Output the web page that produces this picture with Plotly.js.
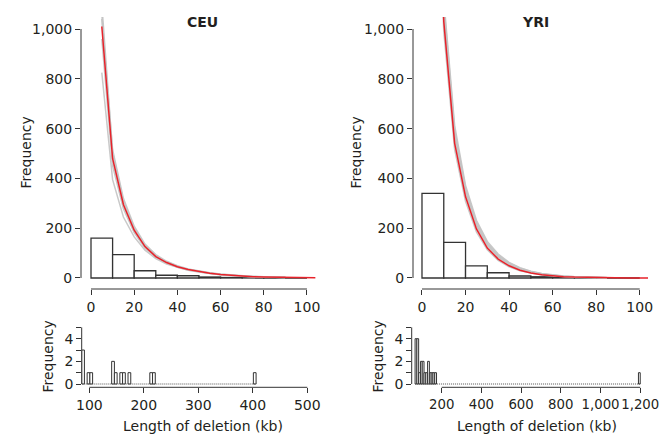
<!DOCTYPE html>
<html>
<head>
<meta charset="utf-8">
<script src="https://cdn.plot.ly/plotly-3.0.1.min.js"></script>
<style>html,body{margin:0;padding:0;background:#fff;}#chart{width:660px;height:434px;}</style>
</head>
<body>
<div id="chart"></div>
<script>
// ---------- data ----------
const xTicksTop = [0, 20, 40, 60, 80, 100];
const yTicksTop = [0, 200, 400, 600, 800, 1000];
const yTickTextTop = ['0', '200', '400', '600', '800', '1,000'];

const histBinLeftTop = [0, 10, 20, 30, 40, 50, 60, 70, 80, 90];
const histBinWidthTop = 10;
const ceuCounts = [160, 94, 29, 11, 9, 4, 2, 1, 1, 0];
const yriCounts = [340, 143, 49, 21, 8, 5, 2, 1, 0, 0];

const redX = [5, 10, 15, 20, 25, 30, 35, 40, 45, 50, 55, 60, 65, 70, 75, 80, 85, 90, 95, 100, 104];
const ceuRedY = [1010, 480, 295, 192, 126, 86, 62, 45, 34, 25, 19, 14, 10, 7, 5, 4, 3, 2, 1.5, 1, 0.8];
const yriRedY = [2200, 1030, 541, 326, 197, 120, 76, 49, 31, 20, 13, 8.5, 5.5, 3.5, 2.3, 1.5, 1, 0.6, 0.4, 0.3, 0.2];

const ceuGrayX = [5, 10, 15, 20, 25, 30, 35, 40, 45, 50, 55, 60, 65, 70, 75, 80, 85, 90];
const ceuGray1 = [825, 395, 245, 165, 112, 78, 56, 42, 31, 24, 18, 13, 10, 7, 5, 4, 3, 2];
const ceuGray2 = [1100, 505, 310, 200, 131, 90, 65, 47, 35, 27, 20, 15, 11, 8, 6, 5, 3.5, 2.5];
const ceuGray3 = [1060, 470, 288, 186, 123, 85, 61, 44, 33, 25, 19, 14, 10, 7.5, 5.5, 4, 3, 2];
const ceuGray4 = [960, 450, 278, 182, 120, 84, 60, 43, 32, 24, 18, 13, 9.5, 7, 5, 3.5, 2.5, 2];
const ceuGray5 = [1040, 515, 320, 208, 136, 94, 67, 49, 36, 28, 21, 16, 12, 9, 6.5, 5, 4, 3];

const yriGrayX = [5, 10, 15, 20, 25, 30, 35, 40, 45, 50, 55, 60, 65, 70, 75, 80, 85];
const yriGray1 = [2300, 1080, 580, 350, 215, 135, 87, 57, 37, 24, 16, 11, 7, 4.5, 3, 2, 1.3];
const yriGray2 = [2100, 990, 515, 308, 185, 113, 71, 45, 29, 19, 12, 8, 5, 3, 2, 1.3, 0.8];
const yriGray3 = [2400, 1120, 612, 372, 232, 147, 96, 63, 41, 27, 18, 12, 8, 5, 3.5, 2.3, 1.5];
const yriGray4 = [2250, 1050, 560, 340, 207, 129, 83, 54, 35, 23, 15, 10, 6.5, 4, 2.7, 1.8, 1.1];
const yriGray5 = [2350, 1100, 595, 362, 224, 141, 91, 60, 39, 26, 17, 11.5, 7.5, 5, 3.2, 2.1, 1.4];

const yTicksTail = [0, 1, 2, 3, 4, 5];
const yTickTextTail = ['0', '', '2', '', '4', ''];
const ceuTailTicks = [100, 200, 300, 400, 500];
const ceuTailTickText = ['100', '200', '300', '400', '500'];
const yriTailTicks = [200, 400, 600, 800, 1000, 1200];
const yriTailTickText = ['200', '400', '600', '800', '1,000', '1,200'];

const ceuTailLeft = [86, 96, 101, 141, 146, 156, 161, 171, 211, 216, 401];
const ceuTailCounts = [3, 1, 1, 2, 1, 1, 1, 1, 1, 1, 1];
const ceuTailWidth = 5;
const yriTailLeft = [66, 75, 84, 93, 102, 111, 120, 129, 138, 147, 156, 165, 1191];
const yriTailCounts = [4, 4, 1, 2, 2, 1, 1, 2, 1, 1, 1, 1, 1];
const yriTailWidth = 9;

// ---------- layout helpers ----------
const W = 660, H = 434;
const FONT = 'DejaVu Sans, Liberation Sans, Arial, sans-serif';
const TXT = '#231f20';
const AX = '#333333';
const fx = p => p / W;
const fy = p => 1 - p / H;

function axisBase(extra) {
  return Object.assign({
    showgrid: false, zeroline: false, showline: false,
    ticks: 'outside', ticklen: 5, tickwidth: 1, tickcolor: AX,
    tickfont: {family: FONT, size: 14, color: TXT}, tickangle: 0,
    tickmode: 'array', fixedrange: true, ticklabeloverflow: 'allow'
  }, extra);
}

const traces = [];
function addHist(xa, ya, lefts, width, counts, lw) {
  traces.push({
    type: 'bar', x: lefts, y: counts, width: width, offset: 0,
    xaxis: xa, yaxis: ya,
    marker: {color: 'rgba(255,255,255,1)', line: {color: AX, width: lw}},
    hoverinfo: 'skip'
  });
}
function addLine(xa, ya, xs, ys, color, w) {
  traces.push({
    type: 'scatter', mode: 'lines', x: xs, y: ys, xaxis: xa, yaxis: ya,
    line: {color: color, width: w}, hoverinfo: 'skip', cliponaxis: true
  });
}

// top CEU
addHist('x', 'y', histBinLeftTop, histBinWidthTop, ceuCounts, 1.3);
[ceuGray1, ceuGray2, ceuGray3, ceuGray4, ceuGray5].forEach(g => addLine('x', 'y', ceuGrayX, g, 'rgba(195,195,195,0.9)', 1.5));
addLine('x', 'y', redX, ceuRedY, '#e8222a', 1.5);
// top YRI
addHist('x2', 'y2', histBinLeftTop, histBinWidthTop, yriCounts, 1.3);
[yriGray1, yriGray2, yriGray3, yriGray4, yriGray5].forEach(g => addLine('x2', 'y2', yriGrayX, g, 'rgba(195,195,195,0.9)', 1.5));
addLine('x2', 'y2', redX, yriRedY, '#e8222a', 1.5);
// tails: baseline of empty bins, then bars
traces.push({type: 'scatter', mode: 'lines', xaxis: 'x3', yaxis: 'y3',
  x: [ceuTailLeft[0], ceuTailLeft[ceuTailLeft.length - 1] + ceuTailWidth], y: [0, 0],
  line: {color: '#555', width: 1.2, dash: '1px,1px'}, hoverinfo: 'skip'});
addHist('x3', 'y3', ceuTailLeft, ceuTailWidth, ceuTailCounts, 1);
traces.push({type: 'scatter', mode: 'lines', xaxis: 'x4', yaxis: 'y4',
  x: [yriTailLeft[0], yriTailLeft[yriTailLeft.length - 1] + yriTailWidth], y: [0, 0],
  line: {color: '#555', width: 1.2, dash: '1px,1px'}, hoverinfo: 'skip'});
addHist('x4', 'y4', yriTailLeft, yriTailWidth, yriTailCounts, 1);

function axisLines(xa, ya, xt, yt) {
  return [
    {type: 'line', xref: xa, yref: ya + ' domain', x0: xt[0], x1: xt[xt.length - 1], y0: 0, y1: 0, line: {color: AX, width: 1}},
    {type: 'line', yref: ya, xref: xa + ' domain', y0: yt[0], y1: yt[yt.length - 1], x0: 0, x1: 0, line: {color: AX, width: 1}}
  ];
}

const layout = {
  width: W, height: H,
  margin: {l: 0, r: 0, t: 0, b: 0},
  paper_bgcolor: '#fff', plot_bgcolor: 'rgba(0,0,0,0)',
  showlegend: false, bargap: 0,
  xaxis: axisBase({domain: [fx(81), fx(315.6)], range: [-4.63, 104], tickvals: xTicksTop, anchor: 'y'}),
  yaxis: axisBase({domain: [fy(289), fy(17)], range: [-44.2, 1048.2], tickvals: yTicksTop, ticktext: yTickTextTop, anchor: 'x'}),
  xaxis2: axisBase({domain: [fx(413), fx(648)], range: [-4.13, 103.8], tickvals: xTicksTop, anchor: 'y2'}),
  yaxis2: axisBase({domain: [fy(289), fy(17)], range: [-44.2, 1048.2], tickvals: yTicksTop, ticktext: yTickTextTop, anchor: 'x2'}),
  xaxis3: axisBase({domain: [fx(81.7), fx(308.4)], range: [86, 502], tickvals: ceuTailTicks, ticktext: ceuTailTickText, anchor: 'y3', ticklen: 4.5}),
  yaxis3: axisBase({domain: [fy(387.3), fy(326)], range: [-0.29, 5.12], tickvals: yTicksTail, ticktext: yTickTextTail, anchor: 'x3', ticklen: 4.5}),
  xaxis4: axisBase({domain: [fx(411.7), fx(644.2)], range: [49, 1220], tickvals: yriTailTicks, ticktext: yriTailTickText, anchor: 'y4', ticklen: 4.5,
    tickfont: {family: FONT, size: 13.3, color: TXT}}),
  yaxis4: axisBase({domain: [fy(387.3), fy(326)], range: [-0.29, 5.12], tickvals: yTicksTail, ticktext: yTickTextTail, anchor: 'x4', ticklen: 4.5}),
  shapes: [].concat(
    axisLines('x', 'y', xTicksTop, yTicksTop),
    axisLines('x2', 'y2', xTicksTop, yTicksTop),
    axisLines('x3', 'y3', ceuTailTicks, yTicksTail),
    axisLines('x4', 'y4', yriTailTicks, yTicksTail)
  ),
  annotations: [
    {text: '<b>CEU</b>', x: fx(202.7), y: fy(21.7)},
    {text: '<b>YRI</b>', x: fx(535), y: fy(21.7)},
    {text: 'Frequency', x: fx(25.5), y: fy(153), textangle: -90},
    {text: 'Frequency', x: fx(355.5), y: fy(153), textangle: -90},
    {text: 'Frequency', x: fx(47.5), y: fy(357), textangle: -90},
    {text: 'Frequency', x: fx(377.5), y: fy(357), textangle: -90},
    {text: 'Length of deletion (kb)', x: fx(203.3), y: fy(426)},
    {text: 'Length of deletion (kb)', x: fx(537), y: fy(426)}
  ].map(a => Object.assign({xref: 'paper', yref: 'paper', showarrow: false,
    xanchor: 'center', yanchor: 'middle', font: {family: FONT, size: 14, color: TXT}}, a))
};

Plotly.newPlot('chart', traces, layout, {staticPlot: true, displayModeBar: false});
</script>
</body>
</html>
